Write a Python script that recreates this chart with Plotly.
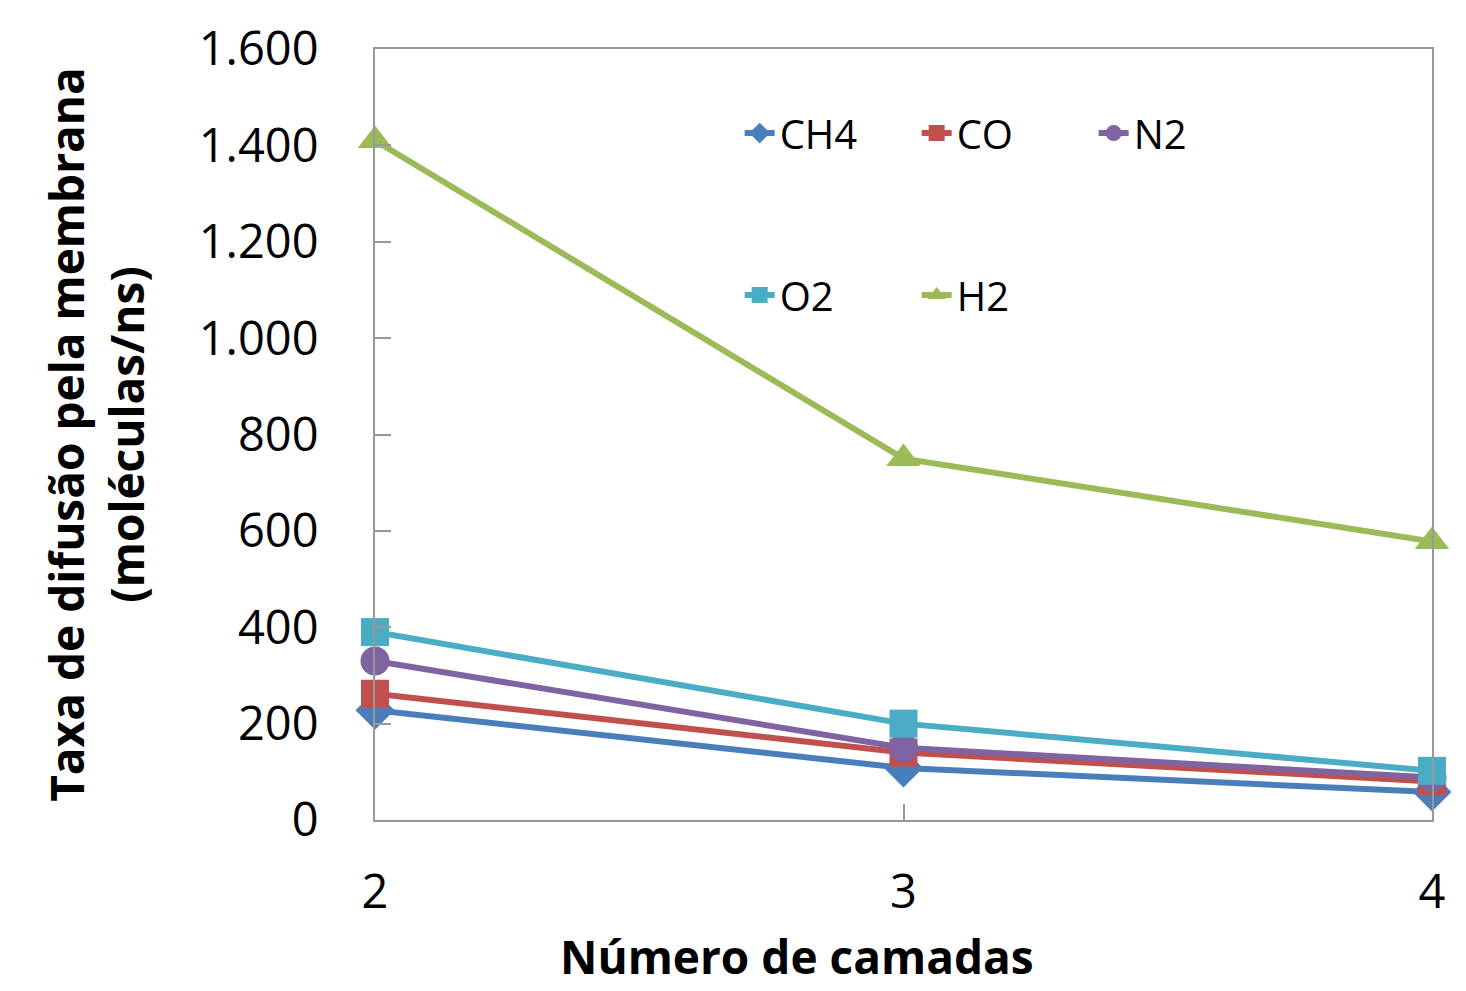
import plotly.graph_objects as go

camadas = [2, 3, 4]
ch4 = [228, 108, 58]
co = [262, 140, 80]
n2 = [330, 150, 88]
o2 = [390, 200, 102]
h2 = [1410, 750, 578]

ytick_vals = [0, 200, 400, 600, 800, 1000, 1200, 1400, 1600]
ytick_text = ["0", "200", "400", "600", "800", "1.000", "1.200", "1.400", "1.600"]

series = [
    ("CH4", ch4, "#4A7EBB", "diamond", 30, "legend"),
    ("CO", co, "#C0504D", "square", 28, "legend"),
    ("N2", n2, "#8064A2", "circle", 29, "legend"),
    ("O2", o2, "#4BACC6", "square", 28, "legend2"),
    ("H2", h2, "#9BBB59", "triangle-up", 30, "legend2"),
]

fig = go.Figure()
for name, vals, color, sym, size, lg in series:
    fig.add_trace(go.Scatter(
        x=camadas, y=vals, name=name, mode="lines+markers",
        line=dict(color=color, width=6),
        marker=dict(symbol=sym, size=size, color=color),
        cliponaxis=False, legend=lg,
    ))

font = "Open Sans, Liberation Sans, sans-serif"
leg_common = dict(orientation="h", xanchor="left", yanchor="middle",
                  entrywidth=132, entrywidthmode="pixels",
                  bgcolor="rgba(0,0,0,0)", font=dict(size=40))
fig.update_layout(
    width=1458, height=983,
    margin=dict(l=367, r=34, t=41, b=171),
    plot_bgcolor="white", paper_bgcolor="white",
    font=dict(family=font, color="black", size=40),
    legend=dict(x=0.345, y=0.891, **leg_common),
    legend2=dict(x=0.345, y=0.681, **leg_common),
    showlegend=True,
    annotations=[dict(text="<b>Número de camadas</b>", xref="paper", yref="paper",
                      x=0.399, y=-0.177, xanchor="center", yanchor="middle",
                      showarrow=False, font=dict(size=46))],
)
fig.update_xaxes(
    range=[2, 4], tickvals=camadas, ticktext=[str(c) for c in camadas],
    showgrid=False, zeroline=False, showline=True, linecolor="#999999", linewidth=2,
    mirror=True, ticks="inside", ticklen=16, tickcolor="#999999", tickwidth=2,
    ticklabelstandoff=30, tickfont=dict(size=47), automargin=False,
)
fig.update_yaxes(
    range=[0, 1600], tickvals=ytick_vals, ticktext=ytick_text,
    showgrid=False, zeroline=False, showline=True, linecolor="#999999", linewidth=2,
    mirror=True, ticks="inside", ticklen=16, tickcolor="#999999", tickwidth=2,
    ticklabelstandoff=45, tickfont=dict(size=47), automargin=False,
    title=dict(text="<b>Taxa de difusão pela membrana<br>(moléculas/ns)</b>",
               font=dict(size=46), standoff=40),
)

fig.write_html("out.html")
